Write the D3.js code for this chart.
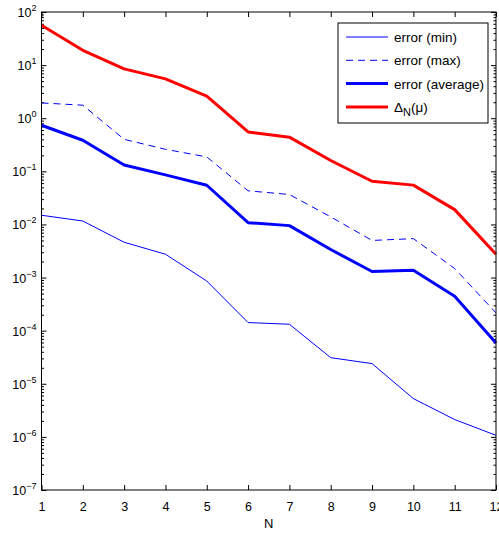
<!DOCTYPE html>
<html>
<head>
<meta charset="utf-8">
<script src="https://cdn.jsdelivr.net/npm/d3@7"></script>
<style>
  body { margin: 0; background: #fff; }
  svg { font-family: "Liberation Sans", Arial, sans-serif; }
</style>
</head>
<body>
<div id="chart"></div>
<script>
// Data.
const nValues = [1, 2, 3, 4, 5, 6, 7, 8, 9, 10, 11, 12];
const errMin = [0.0149, 0.0116, 0.00462, 0.00275, 0.00086, 0.000142, 0.000132, 3.1e-5, 2.4e-5, 5.26e-6, 2.12e-6, 1.07e-6];
const errMax = [1.94, 1.76, 0.40, 0.26, 0.187, 0.043, 0.0366, 0.0139, 0.0050, 0.0054, 0.00148, 0.000216];
const errAvg = [0.738, 0.385, 0.132, 0.0857, 0.0547, 0.0108, 0.0095, 0.00337, 0.0013, 0.00137, 0.000445, 5.88e-5];
const deltaN = [56.4, 19.0, 8.5, 5.5, 2.6, 0.552, 0.44, 0.16, 0.065, 0.055, 0.019, 0.00275];
const yExponents = [2, 1, 0, -1, -2, -3, -4, -5, -6, -7];

// Margin convention.
const chartWidth = 499, chartHeight = 534;
const margin = { top: 12, right: 3, bottom: 44, left: 41.5 };
const width = chartWidth - margin.left - margin.right;
const height = chartHeight - margin.top - margin.bottom;

// Scales.
const xScale = d3.scaleLinear().domain([1, 12]).range([0, width]);
const yScale = d3.scaleLog().domain([1e-7, 1e2]).range([height, 0]);

const svg = d3.select('#chart')
  .append('svg')
  .attr('width', chartWidth)
  .attr('height', chartHeight);

const g = svg.append('g')
  .attr('transform', `translate(${margin.left},${margin.top})`);

// Minor ticks for the log axis.
const minorTicks = [];
for (let e = -7; e < 2; e++) {
  for (let m = 2; m <= 9; m++) minorTicks.push(m * Math.pow(10, e));
}

// Axes (inward ticks, matlab style).
const xBottom = d3.axisBottom(xScale).tickValues(nValues).tickSizeInner(-5).tickSizeOuter(0).tickPadding(12);
const xTop = d3.axisTop(xScale).tickValues(nValues).tickSizeInner(-5).tickSizeOuter(0).tickFormat('');
const yMajor = yExponents.map(e => Math.pow(10, e));

g.append('g').attr('class', 'x axis')
  .attr('transform', `translate(0,${height})`)
  .call(xBottom);
g.append('g').attr('class', 'x axis top').call(xTop);

g.append('g').attr('class', 'y axis')
  .call(d3.axisLeft(yScale).tickValues(yMajor).tickSizeInner(-5).tickSizeOuter(0).tickFormat(''));
g.append('g').attr('class', 'y axis right')
  .attr('transform', `translate(${width},0)`)
  .call(d3.axisRight(yScale).tickValues(yMajor).tickSizeInner(-5).tickSizeOuter(0).tickFormat(''));
g.append('g').attr('class', 'y minor')
  .call(d3.axisLeft(yScale).tickValues(minorTicks).tickSizeInner(-2.5).tickSizeOuter(0).tickFormat(''));
g.append('g').attr('class', 'y minor')
  .attr('transform', `translate(${width},0)`)
  .call(d3.axisRight(yScale).tickValues(minorTicks).tickSizeInner(-2.5).tickSizeOuter(0).tickFormat(''));

g.selectAll('.domain').remove();
g.selectAll('.tick line').attr('stroke', '#000');
g.selectAll('.x.axis text').attr('font-size', 12.5).attr('fill', '#000').attr('font-family', 'Liberation Sans, Arial, sans-serif');

// Y tick labels with superscript exponents.
const yLabels = g.append('g').attr('class', 'y labels');
yExponents.forEach(e => {
  const t = yLabels.append('text')
    .attr('x', -5)
    .attr('y', yScale(Math.pow(10, e)) + 5)
    .attr('text-anchor', 'end')
    .attr('font-size', 12.5);
  t.append('tspan').text('10');
  t.append('tspan').attr('dy', -6).attr('font-size', 9).text(e < 0 ? '\u2212' + (-e) : e);
});

// Lines.
const line = d3.line()
  .x((d, i) => xScale(nValues[i]))
  .y(d => yScale(d));

const series = [
  { name: 'error (min)', values: errMin, color: '#0000ff', width: 1, dash: null },
  { name: 'error (max)', values: errMax, color: '#0000ff', width: 1, dash: '7,5' },
  { name: 'error (average)', values: errAvg, color: '#0000ff', width: 3, dash: null },
  { name: 'delta', values: deltaN, color: '#ff0000', width: 3, dash: null },
];

const plot = g.append('g').attr('class', 'lines');
plot.selectAll('path')
  .data(series)
  .join('path')
  .attr('fill', 'none')
  .attr('stroke', d => d.color)
  .attr('stroke-width', d => d.width)
  .attr('stroke-dasharray', d => d.dash)
  .attr('stroke-linejoin', 'round')
  .attr('d', d => line(d.values));

// Plot frame.
g.append('rect')
  .attr('width', width)
  .attr('height', height)
  .attr('fill', 'none')
  .attr('stroke', '#000')
  .attr('stroke-width', 1);

// X label.
g.append('text')
  .attr('x', width / 2)
  .attr('y', height + 38)
  .attr('text-anchor', 'middle')
  .attr('font-size', 13)
  .text('N');

// Legend.
const legend = svg.append('g').attr('class', 'legend')
  .attr('transform', 'translate(338,23)');
legend.append('rect')
  .attr('width', 150)
  .attr('height', 100)
  .attr('fill', '#fff')
  .attr('stroke', '#000')
  .attr('stroke-width', 1);

const rows = legend.selectAll('.row')
  .data(series)
  .join('g')
  .attr('class', 'row')
  .attr('transform', (d, i) => `translate(0,${14 + i * 23.3})`);

rows.append('line')
  .attr('x1', 8).attr('x2', 50)
  .attr('stroke', d => d.color)
  .attr('stroke-width', d => d.width)
  .attr('stroke-dasharray', d => d.dash);

rows.each(function(d) {
  const t = d3.select(this).append('text')
    .attr('x', 56)
    .attr('y', 5)
    .attr('font-size', 13.5);
  if (d.name === 'delta') {
    t.append('tspan').text('\u0394');
    t.append('tspan').attr('dy', 4).attr('font-size', 11).text('N');
    t.append('tspan').attr('dy', -4).text('(\u03bc)');
  } else {
    t.text(d.name);
  }
});
</script>
</body>
</html>
